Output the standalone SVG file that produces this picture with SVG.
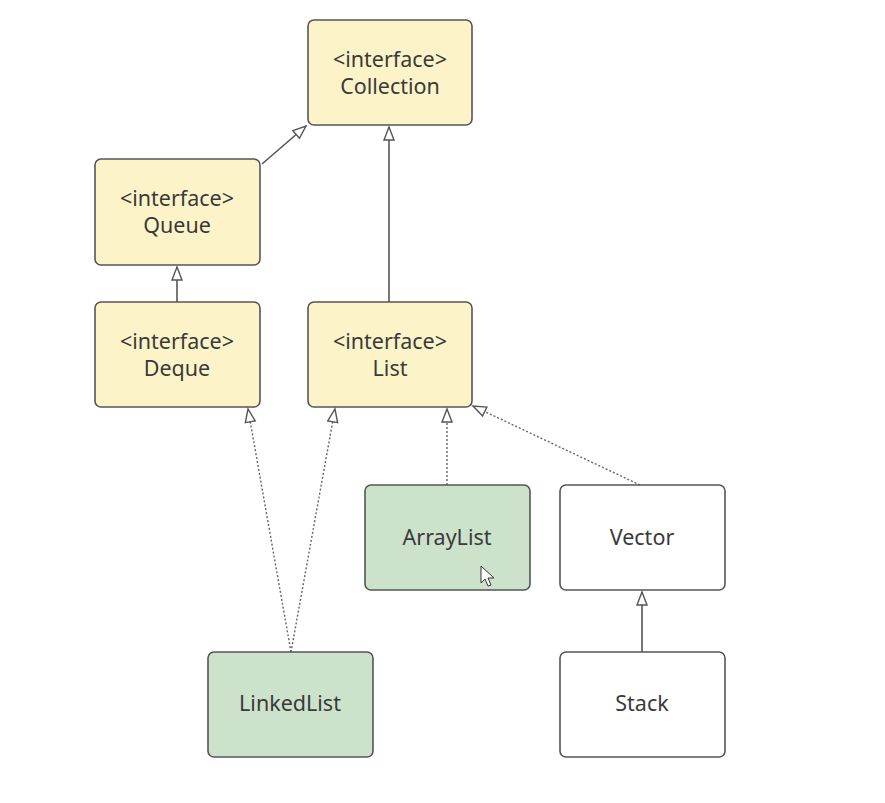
<svg xmlns="http://www.w3.org/2000/svg" width="885" height="803" viewBox="0 0 885 803">
<style>
.iface{fill:#fcf4c8;stroke:#555;stroke-width:1.6}
.impl{fill:#cde2cb;stroke:#555;stroke-width:1.6}
.plain{fill:#fff;stroke:#555;stroke-width:1.6}
text{font-family:"Noto Sans","Open Sans","DejaVu Sans",sans-serif;font-size:21.5px;fill:#3a3a3a;text-anchor:middle}
.solid{stroke:#555;stroke-width:1.6;fill:none}
.dot{stroke:#666;stroke-width:1.4;fill:none;stroke-dasharray:2 2}
</style>
<defs>
<marker id="tri" markerWidth="16" markerHeight="14" refX="14" refY="7" orient="auto" markerUnits="userSpaceOnUse">
<path d="M1,2 L14,7 L1,12 Z" fill="#fff" stroke="#555" stroke-width="1.4"/>
</marker>
</defs>
<rect width="885" height="803" fill="#fff"/>
<g id="connectors">
<line class="solid" x1="262" y1="164" x2="306" y2="126" marker-end="url(#tri)"/>
<line class="solid" x1="389" y1="302" x2="389" y2="127" marker-end="url(#tri)"/>
<line class="solid" x1="177" y1="302" x2="177" y2="267" marker-end="url(#tri)"/>
<line class="dot" x1="291" y1="652" x2="248" y2="409" marker-end="url(#tri)"/>
<line class="dot" x1="291" y1="652" x2="335" y2="409" marker-end="url(#tri)"/>
<line class="dot" x1="447" y1="485" x2="447" y2="409" marker-end="url(#tri)"/>
<line class="dot" x1="640" y1="485" x2="473" y2="406" marker-end="url(#tri)"/>
<line class="solid" x1="642" y1="652" x2="642" y2="592" marker-end="url(#tri)"/>
</g>
<g id="collection">
<rect class="iface" x="308" y="20" width="164" height="105" rx="6"/>
<text x="390" y="67">&lt;interface&gt;</text>
<text x="390" y="94">Collection</text>
</g>
<g id="queue">
<rect class="iface" x="95" y="159" width="165" height="106" rx="6"/>
<text x="177" y="206">&lt;interface&gt;</text>
<text x="177" y="233">Queue</text>
</g>
<g id="deque">
<rect class="iface" x="95" y="302" width="165" height="105" rx="6"/>
<text x="177" y="349">&lt;interface&gt;</text>
<text x="177" y="376">Deque</text>
</g>
<g id="list">
<rect class="iface" x="308" y="302" width="164" height="105" rx="6"/>
<text x="390" y="349">&lt;interface&gt;</text>
<text x="390" y="376">List</text>
</g>
<g id="arraylist">
<rect class="impl" x="365" y="485" width="165" height="105" rx="6"/>
<text x="447" y="545">ArrayList</text>
</g>
<g id="vector">
<rect class="plain" x="560" y="485" width="165" height="105" rx="6"/>
<text x="642" y="545">Vector</text>
</g>
<g id="linkedlist">
<rect class="impl" x="208" y="652" width="165" height="105" rx="6"/>
<text x="290" y="711">LinkedList</text>
</g>
<g id="stack">
<rect class="plain" x="560" y="652" width="165" height="105" rx="6"/>
<text x="642" y="711">Stack</text>
</g>
<path d="M481,566 L481,583 L485,579 L488,586 L491,585 L488,578 L494,578 Z" fill="#fff" stroke="#333" stroke-width="1"/>
</svg>
